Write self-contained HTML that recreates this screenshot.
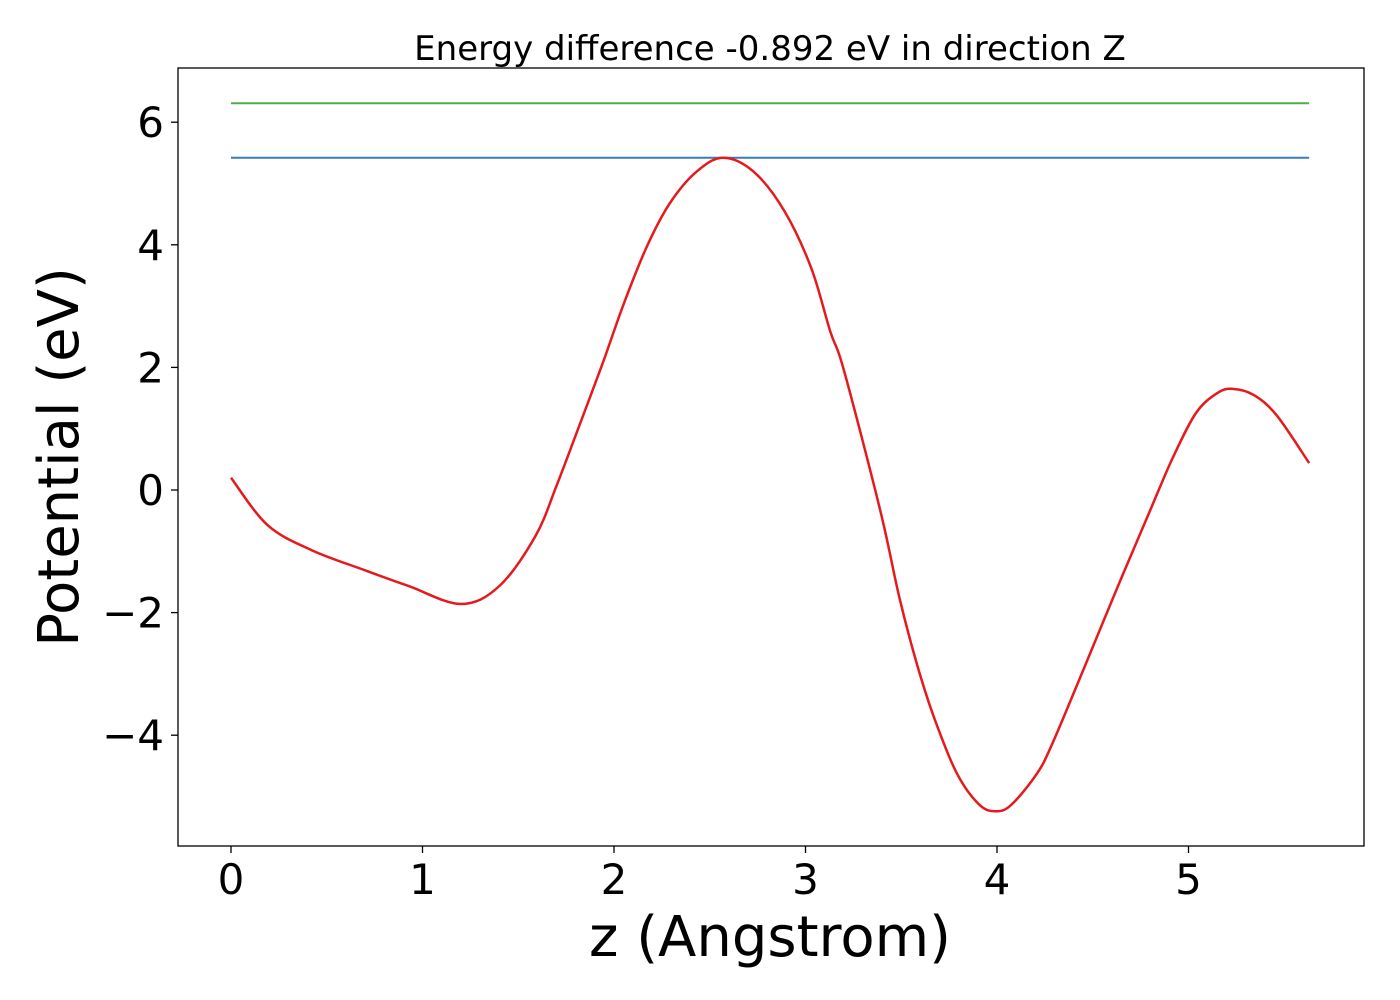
<!DOCTYPE html>
<html><head><meta charset="utf-8"><style>
html,body{margin:0;padding:0;background:#fff;}
svg{display:block;font-family:"DejaVu Sans","Liberation Sans",sans-serif;}
</style></head><body>
<svg id="chart" width="1400" height="1000" viewBox="0 0 1400 1000">
<rect x="0" y="0" width="1400" height="1000" fill="#fff"/>
<text x="770" y="60" font-size="34" text-anchor="middle" fill="#000">Energy difference -0.892 eV in direction Z</text>
<g id="grid"></g>
<g id="xticks"></g>
<g id="yticks"></g>
<g id="series"></g>
<rect x="178" y="68" width="1186" height="778" fill="none" stroke="#000" stroke-width="1.3"/>
<text x="770" y="956" font-size="56" text-anchor="middle" fill="#000">z (Angstrom)</text>
<text transform="translate(78,457) rotate(-90)" font-size="56" text-anchor="middle" fill="#000">Potential (eV)</text>
</svg>
<script>
const zValues = [0,0.19,0.42,0.70,0.93,1.20,1.40,1.59,1.70,1.82,1.94,2.05,2.17,2.29,2.43,2.57,2.73,2.89,3.03,3.13,3.20,3.39,3.49,3.58,3.67,3.79,3.91,4.0,4.08,4.21,4.29,4.45,4.63,4.80,4.92,5.04,5.15,5.23,5.34,5.46,5.63];
const potential = [0.20,-0.57,-0.98,-1.31,-1.57,-1.86,-1.57,-0.75,0.07,1.06,2.06,3.03,3.96,4.67,5.19,5.42,5.19,4.55,3.62,2.58,1.96,-0.33,-1.75,-2.82,-3.70,-4.62,-5.14,-5.24,-5.12,-4.62,-4.13,-2.94,-1.58,-0.33,0.54,1.26,1.58,1.65,1.55,1.22,0.44];
const levelBlue = 5.42;
const levelGreen = 6.31;
const xTickValues = [0,1,2,3,4,5];
const yTickValues = [-4,-2,0,2,4,6];

const xs = v => 231 + v * 191.5;
const ys = v => 490 - v * 61.3;
const NS = "http://www.w3.org/2000/svg";
const svg = document.getElementById('chart');
function mk(tag, attrs, parent){const e=document.createElementNS(NS,tag);for(const k in attrs)e.setAttribute(k,attrs[k]);parent.appendChild(e);return e;}

const xt = document.getElementById('xticks');
xTickValues.forEach(v=>{
  const l = mk('line',{x1:xs(v),x2:xs(v),y1:846,y2:853,stroke:'#000','stroke-width':1.3},xt);
  
  
  const t = mk('text',{x:xs(v),y:894,'font-size':42,'text-anchor':'middle',fill:'#000'},xt);
  t.textContent = String(v);
  
  
});
const yt = document.getElementById('yticks');
yTickValues.forEach(v=>{
  const l = mk('line',{x1:171,x2:178,y1:ys(v),y2:ys(v),stroke:'#000','stroke-width':1.3},yt);
  
  
  const t = mk('text',{x:164,y:ys(v)+15,'font-size':42,'text-anchor':'end',fill:'#000'},yt);
  t.textContent = v < 0 ? '\u2212' + Math.abs(v) : String(v);
  
  
});

const sg = document.getElementById('series');
const zMin = zValues[0], zMax = zValues[zValues.length-1];
const g = mk('line',{x1:xs(zMin),x2:xs(zMax),y1:ys(levelGreen),y2:ys(levelGreen),stroke:'#4daf4a','stroke-width':2},sg);


const b = mk('line',{x1:xs(zMin),x2:xs(zMax),y1:ys(levelBlue),y2:ys(levelBlue),stroke:'#377eb8','stroke-width':2},sg);



// smooth curve via Catmull-Rom
const pts = zValues.map((z,i)=>[xs(z), ys(potential[i])]);
let d = 'M'+pts[0][0]+','+pts[0][1];
for(let i=0;i<pts.length-1;i++){
  const p0=pts[Math.max(0,i-1)],p1=pts[i],p2=pts[i+1],p3=pts[Math.min(pts.length-1,i+2)];
  const c1=[p1[0]+(p2[0]-p0[0])/6,p1[1]+(p2[1]-p0[1])/6];
  const c2=[p2[0]-(p3[0]-p1[0])/6,p2[1]-(p3[1]-p1[1])/6];
  d+=' C'+c1[0]+','+c1[1]+' '+c2[0]+','+c2[1]+' '+p2[0]+','+p2[1];
}
const c = mk('path',{d:d,fill:'none',stroke:'#e41a1c','stroke-width':2.5},sg);


</script>
</body></html>
